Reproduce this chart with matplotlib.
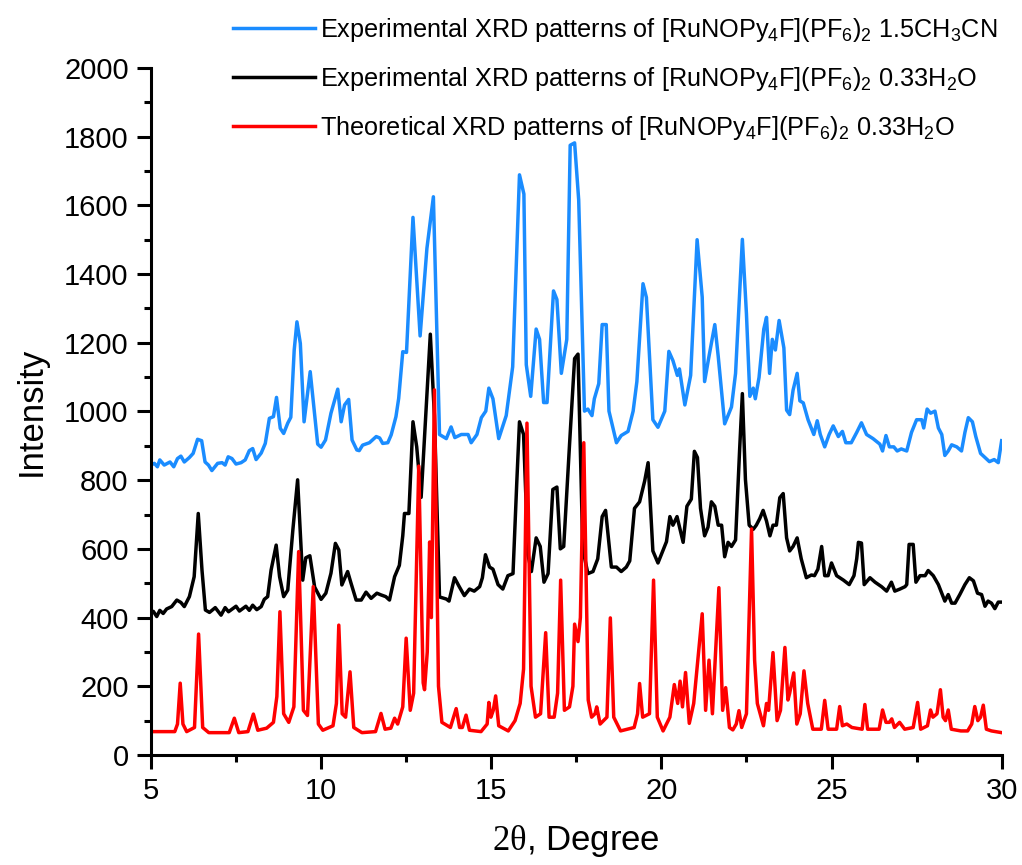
import numpy as np
import matplotlib
matplotlib.use("Agg")
import matplotlib.pyplot as plt
from matplotlib.ticker import MultipleLocator

plt.rcParams['font.family'] = ['Liberation Sans', 'DejaVu Sans']
plt.rcParams['mathtext.fontset'] = 'custom'
plt.rcParams['mathtext.rm'] = 'Liberation Serif'
plt.rcParams['mathtext.it'] = 'Liberation Serif:italic'

# 1.5CH3CN, experimental (blue)
x_ch3cn = [5.00, 5.10, 5.19, 5.26, 5.39, 5.56, 5.67, 5.78, 5.88, 5.98, 6.13, 6.24, 6.37, 6.49, 6.59,
           6.69, 6.79, 6.96, 7.09, 7.18, 7.27, 7.38, 7.50, 7.65, 7.77, 7.89, 7.99, 8.09, 8.24, 8.36,
           8.48, 8.60, 8.69, 8.80, 8.90, 9.02, 9.11, 9.21, 9.29, 9.39, 9.50, 9.68, 9.90, 10.00, 10.13,
           10.29, 10.49, 10.59, 10.69, 10.81, 10.91, 11.05, 11.12, 11.22, 11.42, 11.62, 11.72, 11.81,
           11.96, 12.06, 12.20, 12.28, 12.40, 12.51, 12.70, 12.91, 13.11, 13.30, 13.48, 13.68, 13.82,
           13.93, 14.12, 14.32, 14.41, 14.58, 14.71, 14.84, 14.93, 15.05, 15.22, 15.44, 15.63, 15.83,
           15.96, 16.03, 16.16, 16.32, 16.42, 16.54, 16.64, 16.83, 16.93, 17.06, 17.22, 17.32, 17.45,
           17.57, 17.74, 17.84, 17.96, 18.03, 18.16, 18.26, 18.38, 18.46, 18.68, 18.82, 19.02, 19.17,
           19.28, 19.46, 19.56, 19.75, 19.90, 20.10, 20.22, 20.34, 20.47, 20.53, 20.69, 20.86, 21.05,
           21.20, 21.27, 21.40, 21.57, 21.67, 21.86, 22.06, 22.18, 22.38, 22.50, 22.60, 22.70, 22.76,
           22.87, 23.01, 23.09, 23.18, 23.26, 23.35, 23.46, 23.60, 23.68, 23.77, 23.87, 23.99, 24.07,
           24.17, 24.31, 24.48, 24.58, 24.67, 24.80, 24.93, 25.05, 25.20, 25.32, 25.42, 25.58, 25.74,
           25.88, 26.03, 26.22, 26.42, 26.50, 26.60, 26.70, 26.83, 26.93, 27.05, 27.21, 27.35, 27.50,
           27.65, 27.71, 27.81, 27.91, 28.04, 28.14, 28.24, 28.33, 28.43, 28.53, 28.68, 28.82, 28.92,
           29.02, 29.14, 29.24, 29.38, 29.51, 29.64, 29.78, 29.90, 30.00]
y_ch3cn = [844, 849, 839, 859, 844, 853, 839, 863, 870, 853, 866, 878, 919, 915, 853,
           844, 828, 849, 851, 844, 868, 863, 847, 851, 859, 886, 892, 860, 879, 907,
           980, 985, 1041, 951, 936, 966, 983, 1179, 1261, 1198, 970, 1116, 905, 896, 917,
           995, 1065, 970, 1019, 1035, 917, 888, 886, 902, 909, 927, 923, 907,
           909, 932, 985, 1038, 1174, 1172, 1565, 1220, 1475, 1625, 933, 921, 955,
           924, 933, 933, 909, 933, 982, 1001, 1068, 1037, 921, 988, 1130, 1689,
           1633, 1136, 1044, 1240, 1210, 1026, 1026, 1351, 1326, 1111, 1210, 1775, 1782,
           1616, 1001, 1007, 988, 1037, 1081, 1253, 1253, 1001, 909, 930, 942, 1001,
           1087, 1372, 1332, 976, 954, 1001, 1175, 1148, 1105, 1124, 1019, 1105, 1500,
           1333, 1087, 1161, 1253, 1161, 964, 1013, 1111, 1501, 1284, 1044, 1068, 1037,
           1099, 1240, 1274, 1111, 1210, 1179, 1265, 1185, 1004, 991, 1062, 1111, 1031,
           1025, 976, 933, 973, 933, 897, 933, 958, 927, 942, 909, 909, 939,
           967, 933, 921, 905, 885, 930, 897, 897, 885, 891, 885, 939, 976,
           976, 952, 1007, 995, 1001, 952, 933, 872, 885, 903, 897, 885, 939,
           982, 970, 927, 878, 866, 854, 860, 851, 915]

# 0.33H2O, experimental (black)
x_h2o = [5.00, 5.07, 5.17, 5.26, 5.36, 5.46, 5.61, 5.76, 5.88, 5.98, 6.13, 6.27, 6.39, 6.50, 6.60,
         6.72, 6.89, 7.06, 7.18, 7.28, 7.50, 7.60, 7.79, 7.89, 7.99, 8.11, 8.24, 8.33, 8.43, 8.53,
         8.68, 8.78, 8.90, 9.02, 9.17, 9.31, 9.46, 9.55, 9.67, 9.81, 10.00, 10.14, 10.29, 10.42,
         10.52, 10.61, 10.78, 10.88, 11.03, 11.18, 11.32, 11.47, 11.64, 11.76, 11.90, 12.01, 12.16,
         12.30, 12.40, 12.45, 12.58, 12.70, 12.81, 12.94, 13.21, 13.33, 13.48, 13.68, 13.76, 13.92,
         14.06, 14.21, 14.36, 14.50, 14.66, 14.74, 14.83, 14.95, 15.05, 15.20, 15.34, 15.49, 15.64,
         15.75, 15.83, 15.95, 16.08, 16.18, 16.32, 16.44, 16.55, 16.67, 16.81, 16.93, 17.03, 17.13,
         17.30, 17.45, 17.55, 17.69, 17.84, 17.99, 18.13, 18.26, 18.36, 18.53, 18.68, 18.82, 18.97,
         19.07, 19.21, 19.36, 19.51, 19.61, 19.75, 19.90, 20.04, 20.15, 20.25, 20.34, 20.46, 20.64,
         20.75, 20.88, 20.97, 21.06, 21.15, 21.27, 21.37, 21.47, 21.57, 21.67, 21.77, 21.86, 21.96,
         22.06, 22.18, 22.30, 22.38, 22.47, 22.58, 22.70, 22.79, 22.89, 22.99, 23.09, 23.19, 23.28,
         23.38, 23.48, 23.58, 23.68, 23.77, 23.87, 23.99, 24.11, 24.26, 24.41, 24.50, 24.60, 24.71,
         24.80, 24.90, 25.00, 25.15, 25.35, 25.52, 25.66, 25.74, 25.79, 25.88, 25.96, 26.13, 26.28,
         26.47, 26.62, 26.76, 26.86, 27.01, 27.16, 27.21, 27.28, 27.40, 27.48, 27.60, 27.75, 27.84,
         27.99, 28.14, 28.24, 28.33, 28.43, 28.53, 28.63, 28.77, 28.92, 29.05, 29.17, 29.29, 29.41,
         29.51, 29.60, 29.70, 29.80, 29.90, 30.00]
y_h2o = [417, 418, 403, 421, 412, 425, 432, 451, 444, 432, 461, 519, 703, 538, 422,
         415, 429, 407, 429, 417, 433, 419, 433, 421, 436, 423, 432, 453, 461, 538,
         611, 519, 461, 480, 655, 801, 509, 574, 580, 489, 453, 471, 529, 616,
         597, 495, 534, 500, 451, 451, 474, 456, 471, 466, 461, 451, 519,
         552, 638, 703, 703, 970, 897, 750, 1225, 988, 460, 454, 448, 516,
         490, 464, 483, 477, 490, 516, 583, 547, 541, 496, 483, 522, 528,
         792, 970, 933, 583, 534, 632, 607, 503, 528, 773, 780, 600, 607,
         902, 1154, 1167, 600, 528, 534, 571, 694, 712, 547, 547, 534, 547,
         565, 718, 737, 798, 851, 594, 559, 594, 621, 694, 669, 694, 619,
         724, 745, 884, 866, 718, 638, 663, 737, 724, 669, 669, 577, 619,
         607, 626, 890, 1052, 802, 669, 657, 669, 688, 712, 681, 638, 669,
         669, 749, 761, 632, 594, 607, 632, 571, 516, 524, 522, 541, 607,
         522, 522, 559, 522, 509, 496, 522, 571, 619, 617, 496, 516, 503,
         490, 477, 503, 477, 483, 490, 496, 613, 613, 503, 522, 522, 537,
         522, 496, 471, 448, 467, 442, 442, 467, 496, 516, 507, 471, 467,
         433, 448, 442, 426, 445, 445]

# 0.33H2O, theoretical (red)
x_theo = [5.00, 5.70, 5.78, 5.86, 5.94, 6.05, 6.28, 6.40, 6.52, 6.70, 7.30, 7.45, 7.58, 7.85, 8.01,
          8.14, 8.40, 8.60, 8.70, 8.79, 8.90, 9.05, 9.20, 9.34, 9.48, 9.60, 9.77, 9.92, 10.05, 10.35,
          10.45, 10.52, 10.62, 10.72, 10.85, 10.96, 11.20, 11.60, 11.76, 11.88, 12.05, 12.16, 12.25,
          12.40, 12.50, 12.62, 12.72, 12.87, 13.00, 13.04, 13.12, 13.19, 13.24, 13.33, 13.45, 13.55,
          13.80, 13.97, 14.07, 14.15, 14.26, 14.36, 14.70, 14.88, 14.93, 14.99, 15.06, 15.13, 15.22,
          15.50, 15.70, 15.85, 15.95, 16.05, 16.17, 16.30, 16.45, 16.60, 16.70, 16.85, 16.95, 17.04,
          17.15, 17.30, 17.40, 17.45, 17.55, 17.62, 17.72, 17.85, 17.95, 18.05, 18.10, 18.20, 18.40,
          18.50, 18.60, 18.80, 19.20, 19.30, 19.36, 19.45, 19.65, 19.77, 19.88, 20.05, 20.25, 20.38,
          20.48, 20.55, 20.62, 20.71, 20.82, 20.95, 21.20, 21.30, 21.40, 21.50, 21.69, 21.80, 21.89,
          22.00, 22.10, 22.20, 22.28, 22.36, 22.50, 22.65, 22.74, 22.82, 23.00, 23.09, 23.15, 23.28,
          23.40, 23.50, 23.63, 23.72, 23.77, 23.89, 23.98, 24.08, 24.19, 24.30, 24.45, 24.70, 24.80,
          24.90, 25.15, 25.24, 25.32, 25.45, 25.60, 25.90, 25.98, 26.06, 26.40, 26.50, 26.60, 26.70,
          26.77, 26.85, 27.00, 27.15, 27.40, 27.53, 27.62, 27.82, 27.91, 27.98, 28.10, 28.20, 28.28,
          28.35, 28.43, 28.52, 28.80, 29.00, 29.12, 29.21, 29.30, 29.38, 29.46, 29.55, 29.70, 30.00]
y_theo = [68, 68, 90, 209, 90, 68, 80, 352, 80, 65, 65, 107, 65, 68, 119,
          72, 78, 95, 170, 417, 120, 95, 140, 592, 130, 115, 490, 90, 72, 85,
          150, 378, 120, 110, 242, 80, 65, 68, 121, 75, 78, 107, 90,
          140, 340, 130, 180, 841, 210, 190, 300, 620, 400, 1063, 200, 95,
          80, 135, 80, 80, 116, 72, 68, 90, 153, 110, 130, 172, 85,
          70, 100, 150, 250, 966, 200, 110, 120, 356, 110, 110, 180, 509,
          130, 140, 200, 381, 330, 400, 909, 160, 110, 120, 140, 90, 110,
          399, 110, 70, 80, 120, 208, 110, 120, 509, 110, 70, 110, 205,
          150, 215, 140, 240, 92, 150, 411, 130, 276, 120, 487, 130, 196,
          80, 73, 90, 129, 80, 120, 658, 276, 150, 85, 150, 130, 298,
          100, 130, 313, 160, 180, 239, 90, 120, 245, 150, 75, 75, 159,
          75, 75, 141, 85, 90, 80, 75, 147, 75, 75, 131, 95, 95,
          105, 80, 95, 75, 80, 153, 75, 85, 131, 110, 120, 190, 110,
          100, 131, 75, 70, 70, 90, 141, 100, 110, 145, 75, 70, 65]

labels = [r'Experimental XRD patterns of [RuNOPy$\mathregular{_4}$F](PF$\mathregular{_6}$)$\mathregular{_2}$ 1.5CH$\mathregular{_3}$CN',
          r'Experimental XRD patterns of [RuNOPy$\mathregular{_4}$F](PF$\mathregular{_6}$)$\mathregular{_2}$ 0.33H$\mathregular{_2}$O',
          r'Theoretical XRD patterns of [RuNOPy$\mathregular{_4}$F](PF$\mathregular{_6}$)$\mathregular{_2}$ 0.33H$\mathregular{_2}$O']

fig = plt.figure(figsize=(10.22, 8.65), dpi=100)
ax = fig.add_axes([0.1477, 0.1272, 0.8324, 0.7942])

ax.plot(x_ch3cn, y_ch3cn, color='#1a8cff', lw=2.5, label=labels[0])
ax.plot(x_h2o, y_h2o, color='black', lw=2.5, label=labels[1])
ax.plot(x_theo, y_theo, color='#ff0000', lw=2.5, label=labels[2])

ax.set_xlim(5, 30)
ax.set_ylim(0, 2000)
ax.xaxis.set_major_locator(MultipleLocator(5))
ax.xaxis.set_minor_locator(MultipleLocator(2.5))
ax.yaxis.set_major_locator(MultipleLocator(200))
ax.yaxis.set_minor_locator(MultipleLocator(100))

for s in ['top', 'right']:
    ax.spines[s].set_visible(False)
for s in ['left', 'bottom']:
    ax.spines[s].set_linewidth(2.2)
ax.tick_params(which='major', direction='out', length=10, width=2.2, labelsize=21, pad=6)
ax.tick_params(which='minor', direction='out', length=5, width=2.2)

ax.set_xlabel(r'$\mathrm{2\theta}$, Degree', fontsize=25, labelpad=13)
ax.set_ylabel('Intensity', fontsize=25, labelpad=12)

fig.legend(loc='upper left', bbox_to_anchor=(0.228, 0.982), frameon=False, fontsize=18.2,
           handlelength=3.25, handletextpad=0.2, labelspacing=0.83, borderpad=0, borderaxespad=0)

fig.savefig('out.png', dpi=100)
